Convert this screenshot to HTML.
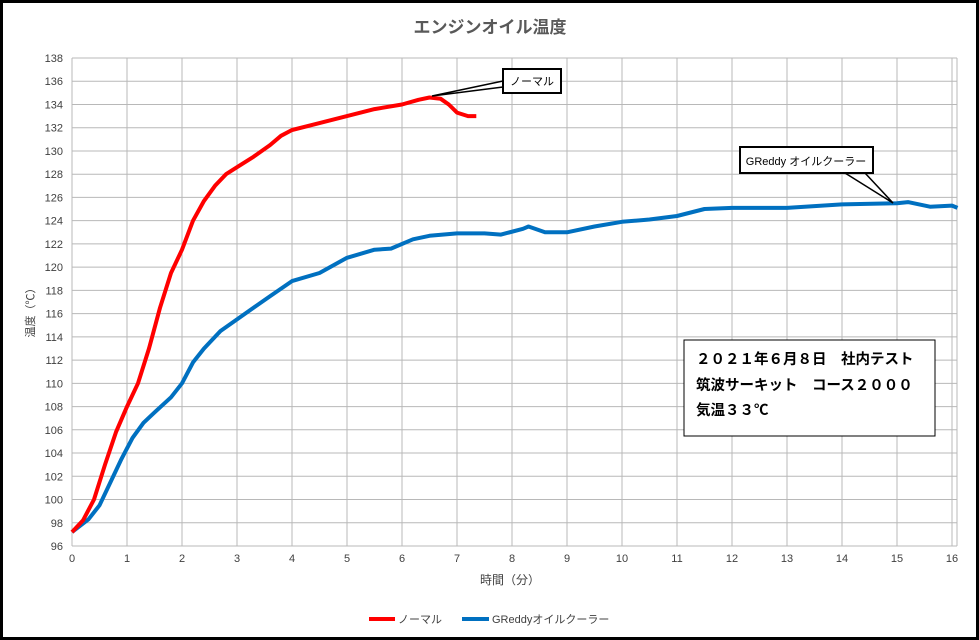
<!DOCTYPE html>
<html><head><meta charset="utf-8"><style>
body{margin:0;background:#fff}
svg{display:block;font-family:"Liberation Sans","Noto Sans CJK JP",sans-serif}
</style></head><body>
<svg width="979" height="640" viewBox="0 0 979 640">
<rect x="1.5" y="1.5" width="976" height="637" fill="#fff" stroke="#000" stroke-width="3"/>
<text x="490" y="33" text-anchor="middle" font-size="17" font-weight="bold" fill="#595959">エンジンオイル温度</text>
<g id="grid" stroke="#b8b8b8" stroke-width="1"></g>
<g id="yl" font-size="11" fill="#404040" text-anchor="end"></g>
<g id="xl" font-size="11" fill="#404040" text-anchor="middle"></g>
<text transform="translate(34,310) rotate(-90)" text-anchor="middle" font-size="11" fill="#404040">温度（℃）</text>
<text x="510" y="584" text-anchor="middle" font-size="12" fill="#404040">時間（分）</text>
<polyline id="blue" fill="none" stroke="#0070c0" stroke-width="4" stroke-linejoin="round"/>
<polyline id="red" fill="none" stroke="#ff0000" stroke-width="4" stroke-linejoin="round"/>
<polyline points="503,81 432,96 503,87" fill="none" stroke="#000" stroke-width="1.5"/>
<rect x="503" y="69" width="58" height="24" fill="#fff" stroke="#000" stroke-width="2"/>
<text x="532" y="85" text-anchor="middle" font-size="11" fill="#000">ノーマル</text>
<polyline points="845,173 893,203 865,173" fill="none" stroke="#000" stroke-width="1.5"/>
<rect x="740" y="147" width="133" height="26" fill="#fff" stroke="#000" stroke-width="2"/>
<text x="806" y="165" text-anchor="middle" font-size="11" fill="#000">GReddy オイルクーラー</text>
<rect x="684" y="340" width="251" height="96" fill="#fff" stroke="#000" stroke-width="1"/>
<g font-size="14.5" font-weight="bold" fill="#000">
<text x="696" y="364">２０２１年６月８日　社内テスト</text>
<text x="696" y="390">筑波サーキット　コース２０００</text>
<text x="696" y="415">気温３３℃</text>
</g>
<line x1="369" y1="619" x2="395" y2="619" stroke="#ff0000" stroke-width="4"/>
<text x="398" y="623" font-size="11" fill="#404040">ノーマル</text>
<line x1="462" y1="619" x2="489" y2="619" stroke="#0070c0" stroke-width="4"/>
<text x="492" y="623" font-size="11" fill="#404040">GReddyオイルクーラー</text>
</svg>
<script>
const NS="http://www.w3.org/2000/svg";
const X=t=>72+55*t, Y=v=>546-(v-96)*11.619;
const g=document.getElementById('grid'),yl=document.getElementById('yl'),xl=document.getElementById('xl');
function el(p,n,a,txt){const e=document.createElementNS(NS,n);for(const k in a)e.setAttribute(k,a[k]);if(txt!=null)e.textContent=txt;p.appendChild(e);}
for(let v=96;v<=138;v+=2){el(g,'line',{x1:72,x2:957,y1:Y(v),y2:Y(v)});el(yl,'text',{x:63,y:Y(v)+4},v);}
for(let t=0;t<=16;t++){el(g,'line',{x1:X(t),x2:X(t),y1:58,y2:546});el(xl,'text',{x:X(t),y:562},t);}
el(g,'line',{x1:957,x2:957,y1:58,y2:546});
const red=[[0,97.2],[0.2,98.2],[0.4,100],[0.6,103],[0.8,105.8],[1,108],[1.2,110],[1.4,113],[1.6,116.5],[1.8,119.5],[2,121.5],[2.2,124],[2.4,125.7],[2.6,127],[2.8,128],[3,128.6],[3.3,129.5],[3.6,130.5],[3.8,131.3],[4,131.8],[4.5,132.4],[5,133],[5.5,133.6],[6,134],[6.3,134.4],[6.5,134.6],[6.7,134.5],[6.85,134],[7,133.3],[7.2,133],[7.35,133]];
const blue=[[0,97.2],[0.3,98.3],[0.5,99.5],[0.7,101.5],[0.9,103.5],[1.1,105.3],[1.3,106.6],[1.5,107.5],[1.8,108.8],[2,110],[2.2,111.8],[2.4,113],[2.7,114.5],[3,115.5],[3.3,116.5],[3.6,117.5],[4,118.8],[4.5,119.5],[5,120.8],[5.5,121.5],[5.8,121.6],[6.2,122.4],[6.5,122.7],[7,122.9],[7.5,122.9],[7.8,122.8],[8.2,123.3],[8.3,123.5],[8.6,123],[9,123],[9.5,123.5],[10,123.9],[10.5,124.1],[11,124.4],[11.5,125],[12,125.1],[13,125.1],[14,125.4],[15,125.5],[15.2,125.6],[15.6,125.2],[16,125.3],[16.1,125.1]];
const pts=a=>a.map(p=>X(p[0]).toFixed(1)+','+Y(p[1]).toFixed(1)).join(' ');
document.getElementById('red').setAttribute('points',pts(red));
document.getElementById('blue').setAttribute('points',pts(blue));
</script>
</body></html>
